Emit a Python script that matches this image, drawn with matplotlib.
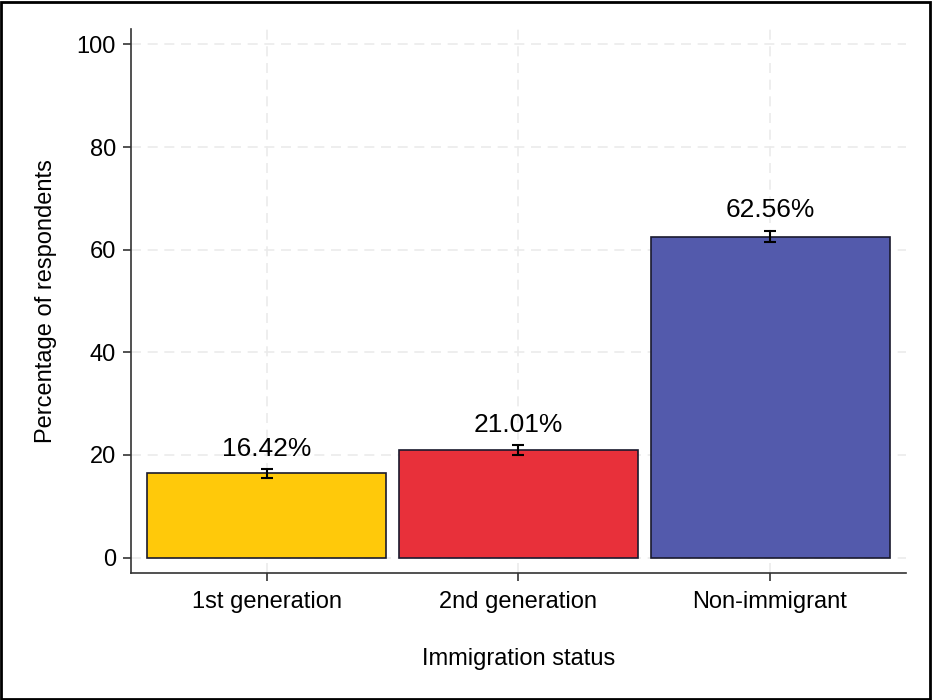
import matplotlib
matplotlib.use("Agg")
import matplotlib.pyplot as plt
from matplotlib.patches import Rectangle

categories = ["1st generation", "2nd generation", "Non-immigrant"]
values = [16.42, 21.01, 62.56]
errors = [0.85, 0.95, 1.15]
colors = ["#FFC90A", "#E8303A", "#535AAC"]
yticks = [0, 20, 40, 60, 80, 100]

plt.rcParams['font.family'] = ['Liberation Sans', 'DejaVu Sans']

fig = plt.figure(figsize=(9.32, 7.0), dpi=100)
ax = fig.add_axes([0.1406, 0.1814, 0.972 - 0.1406, 0.9586 - 0.1814])

x = [1, 2, 3]
ax.bar(x, values, width=0.95, color=colors, edgecolor="#1a1a2e", linewidth=1.2, zorder=2)
ax.errorbar(x, values, yerr=errors, fmt="none", ecolor="black", elinewidth=1.5,
            capsize=4, capthick=1.5, zorder=3)
for xi, v, e in zip(x, values, errors):
    ax.text(xi, v + e + 1.6, f"{v:.2f}%", ha="center", va="bottom", fontsize=19)

ax.set_xlim(0.46, 3.54)
ax.set_ylim(-3, 103)
ax.set_xticks(x)
ax.set_xticklabels(categories, fontsize=17)
ax.set_yticks(yticks)
ax.set_yticklabels([str(t) for t in yticks], fontsize=17)
ax.set_xlabel("Immigration status", fontsize=17, labelpad=25)
ax.set_ylabel("Percentage of respondents", fontsize=17, labelpad=14)

ax.grid(True, color="#ebebeb", linestyle=(0, (6, 4)), linewidth=1.2, zorder=0)
ax.set_axisbelow(True)
for s in ["top", "right"]:
    ax.spines[s].set_visible(False)
for s in ["left", "bottom"]:
    ax.spines[s].set_color("#333333")
    ax.spines[s].set_linewidth(1.2)
ax.tick_params(axis="x", direction="out", length=6, width=1.2, color="#333333", pad=7)
ax.tick_params(axis="y", direction="out", length=6, width=1.2, color="#333333", pad=5)

fig.patches.append(Rectangle((0.001, 0.001), 0.997, 0.996, transform=fig.transFigure,
                             fill=False, edgecolor="black", linewidth=2))

fig.savefig("out.png", dpi=100)
